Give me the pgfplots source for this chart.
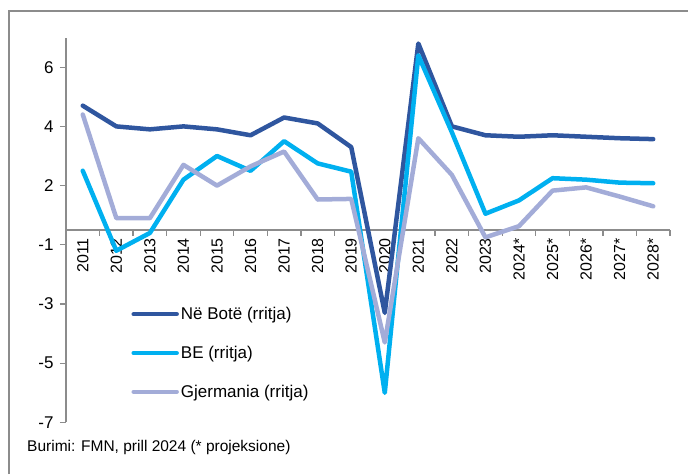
\documentclass[border=0pt]{standalone}
\usepackage{fontspec}
\setmainfont{Liberation Sans}
\usepackage{pgfplots}
\pgfplotsset{compat=1.18}
\definecolor{world}{HTML}{2F569F}
\definecolor{eu}{HTML}{00B0F0}
\definecolor{de}{HTML}{A3ACD8}
\definecolor{framegray}{HTML}{8C8C8C}
\definecolor{axgray}{HTML}{8C8C8C}
\begin{document}
\begin{tikzpicture}[x=1pt,y=1pt]
\useasboundingbox (0,0) rectangle (688,474);
\draw[framegray, line width=2pt] (9,0) -- (9,463) -- (688,463);
\begin{axis}[
  at={(66pt,51.6pt)}, anchor=south west,
  width=604pt, height=384.8pt, scale only axis,
  xmin=-0.5, xmax=17.5, ymin=-6.5, ymax=6.5,
  axis y line*=left, axis x line*=middle,
  hide obscured x ticks=false, hide obscured y ticks=false,
  axis line style={draw=axgray, line width=1.3pt},
  tick style={draw=axgray, line width=1.3pt},
  tick align=outside, major tick length=6pt,
  xtick={-0.5,0.5,...,17.5},
  x tick label as interval,
  xticklabels={2011,2012,2013,2014,2015,2016,2017,2018,2019,2020,2021,2022,2023,2024*,2025*,2026*,2027*,2028*},
  xticklabel style={rotate=90, anchor=east, font=\fontsize{16}{18}\selectfont, inner sep=2pt},
  ytick={5.5,3.5,1.5,-0.5,-2.5,-4.5,-6.5},
  yticklabels={6,4,2,-1,-3,-5,-7},
  yticklabel style={font=\fontsize{17}{20}\selectfont, xshift=-3pt},
  legend style={draw=none, fill=none, at={(0.108,0.305)}, anchor=north west,
    font=\fontsize{17}{20}\selectfont, row sep=21pt, inner sep=0pt},
  legend cell align=left,
  legend image code/.code={\draw[#1] (0pt,0pt) -- (43pt,0pt);},
  every axis plot/.append style={line width=4.5pt, line cap=round, line join=round},
  clip=false,
]
\addplot[world] coordinates {(0,4.2) (1,3.5) (2,3.4) (3,3.5) (4,3.4) (5,3.2) (6,3.8) (7,3.6) (8,2.8) (9,-2.8) (10,6.3) (11,3.5) (12,3.2) (13,3.15) (14,3.2) (15,3.15) (16,3.1) (17,3.07)};
\addlegendentry{Në Botë (rritja)}
\addplot[eu] coordinates {(0,2.0) (1,-0.7) (2,-0.1) (3,1.7) (4,2.5) (5,2.0) (6,3.0) (7,2.25) (8,1.97) (9,-5.5) (10,5.9) (11,3.3) (12,0.55) (13,1.0) (14,1.75) (15,1.7) (16,1.6) (17,1.58)};
\addlegendentry{BE (rritja)}
\addplot[de] coordinates {(0,3.9) (1,0.4) (2,0.4) (3,2.2) (4,1.5) (5,2.15) (6,2.65) (7,1.03) (8,1.05) (9,-3.8) (10,3.1) (11,1.86) (12,-0.25) (13,0.13) (14,1.33) (15,1.44) (16,1.13) (17,0.8)};
\addlegendentry{Gjermania (rritja)}
\end{axis}
\node[anchor=base west, font=\fontsize{15.5}{18}\selectfont, inner sep=0pt] at (27,23) {Burimi: FMN, prill 2024 (* projeksione)};
\end{tikzpicture}
\end{document}
